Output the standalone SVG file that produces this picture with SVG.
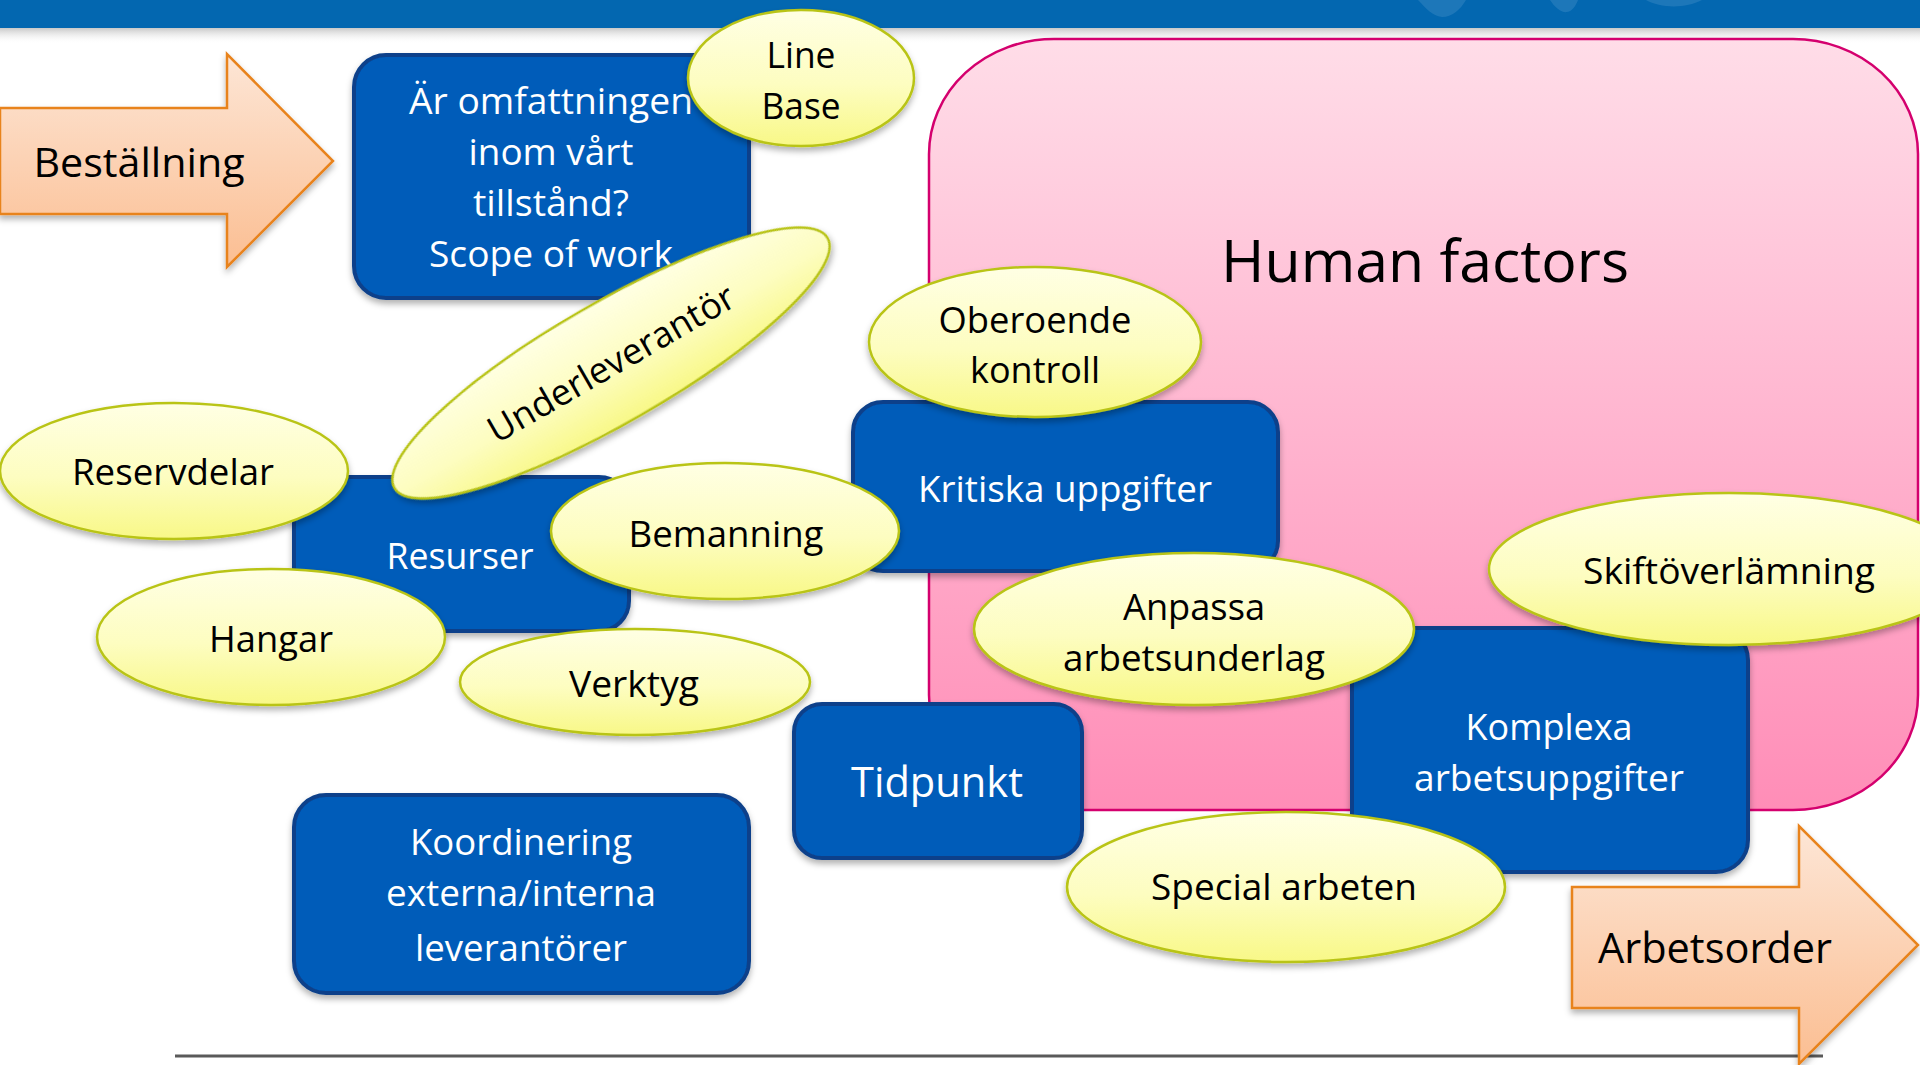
<svg xmlns="http://www.w3.org/2000/svg" width="1920" height="1065" viewBox="0 0 1920 1065">
<defs>
<linearGradient id="gEll" x1="0" y1="0" x2="0" y2="1">
<stop offset="0" stop-color="#FFFFE4"/>
<stop offset="0.55" stop-color="#FDFDC0"/>
<stop offset="1" stop-color="#F8F887"/>
</linearGradient>
<linearGradient id="gPink" x1="0" y1="0" x2="0" y2="1">
<stop offset="0" stop-color="#FFDDE8"/>
<stop offset="1" stop-color="#FF8DB7"/>
</linearGradient>
<linearGradient id="gArrow" x1="0" y1="0" x2="0" y2="1">
<stop offset="0" stop-color="#FDE6D6"/>
<stop offset="1" stop-color="#FBBE92"/>
</linearGradient>
<linearGradient id="gBarShadow" x1="0" y1="0" x2="0" y2="1">
<stop offset="0" stop-color="#C8C8C8"/>
<stop offset="1" stop-color="#FFFFFF" stop-opacity="0"/>
</linearGradient>
<filter id="sh" x="-10%" y="-10%" width="120%" height="130%">
<feDropShadow dx="0" dy="4" stdDeviation="3" flood-color="#000" flood-opacity="0.3"/>
</filter>
<style>
.box{fill:#035BB9;stroke:#0B418A;stroke-width:4;filter:url(#sh)}
.ell{fill:url(#gEll);stroke:#B9C417;stroke-width:2.5;filter:url(#sh)}
.arrow{fill:url(#gArrow);stroke:#E8831E;stroke-width:2.5;filter:url(#sh)}
.t{font-family:"Open Sans","Liberation Sans",sans-serif;text-anchor:middle}
.w{fill:#FFFFFF;font-size:37px}
.b{fill:#000000;font-size:36px}
</style>
</defs>
<rect x="0" y="0" width="1920" height="1065" fill="#FFFFFF"/>
<g id="topbar">
<rect x="0" y="28" width="1920" height="16" fill="url(#gBarShadow)"/>
<rect x="0" y="0" width="1920" height="28" fill="#0367B0"/>
<path d="M1418,0 C1426,8 1432,16 1442,17 C1452,17 1460,10 1466,0 Z" fill="#2F82C0" opacity="0.6"/>
<path d="M1550,0 C1555,8 1562,13 1567,12 C1573,11 1576,5 1578,0 Z" fill="#2F82C0" opacity="0.6"/>
<path d="M1646,0 C1660,8 1685,9 1702,0 Z" fill="#2F82C0" opacity="0.6"/>
</g>
<g id="baseline-rule">
<line x1="175" y1="1056" x2="1823" y2="1056" stroke="#5A5A5A" stroke-width="3"/>
</g>
<g id="connectors"></g>
<g id="human-factors">
<rect x="929" y="39" width="989" height="771" rx="125" ry="115" fill="url(#gPink)" stroke="#D4006E" stroke-width="2.5"/>
<text class="t" x="1425" y="282" font-size="58" fill="#000" textLength="408" lengthAdjust="spacingAndGlyphs">Human factors</text>
</g>
<g id="bestallning">
<path class="arrow" d="M0,108 H227 V54 L333,161 L227,267 V214 H0 Z"/>
<text class="t" x="139" y="177" font-size="41" fill="#000" textLength="211" lengthAdjust="spacingAndGlyphs">Beställning</text>
</g>
<g id="scope">
<rect class="box" x="354" y="55" width="395" height="243" rx="32"/>
<text class="t w" x="551" y="114" textLength="284" lengthAdjust="spacingAndGlyphs">Är omfattningen</text>
<text class="t w" x="551" y="165" textLength="165" lengthAdjust="spacingAndGlyphs">inom vårt</text>
<text class="t w" x="551" y="216" textLength="156" lengthAdjust="spacingAndGlyphs">tillstånd?</text>
<text class="t w" x="551" y="267" textLength="244" lengthAdjust="spacingAndGlyphs">Scope of work</text>
</g>
<g id="linebase">
<ellipse class="ell" cx="801" cy="78" rx="113" ry="68"/>
<text class="t b" x="801" y="68" textLength="69" lengthAdjust="spacingAndGlyphs">Line</text>
<text class="t b" x="801" y="119" textLength="79" lengthAdjust="spacingAndGlyphs">Base</text>
</g>
<g id="kritiska">
<rect class="box" x="853" y="402" width="425" height="169" rx="30"/>
<text class="t w" x="1065" y="502" textLength="294" lengthAdjust="spacingAndGlyphs">Kritiska uppgifter</text>
</g>
<g id="oberoende">
<ellipse class="ell" cx="1035" cy="342" rx="166" ry="75"/>
<text class="t b" x="1035" y="333" textLength="193" lengthAdjust="spacingAndGlyphs">Oberoende</text>
<text class="t b" x="1035" y="383" textLength="130" lengthAdjust="spacingAndGlyphs">kontroll</text>
</g>
<g id="resurser">
<rect class="box" x="294" y="477" width="335" height="154" rx="30"/>
<text class="t w" x="460" y="569" textLength="147" lengthAdjust="spacingAndGlyphs">Resurser</text>
</g>
<g id="underleverantor">
<g transform="translate(611,363) rotate(-30)">
<ellipse class="ell" cx="0" cy="0" rx="250" ry="60"/>
<text class="t b" x="0" y="13">Underleverantör</text>
</g>
</g>
<g id="reservdelar">
<ellipse class="ell" cx="174" cy="471" rx="174" ry="68"/>
<text class="t b" x="173" y="485" textLength="202" lengthAdjust="spacingAndGlyphs">Reservdelar</text>
</g>
<g id="bemanning">
<ellipse class="ell" cx="725" cy="531" rx="174" ry="68"/>
<text class="t b" x="726" y="547" textLength="195" lengthAdjust="spacingAndGlyphs">Bemanning</text>
</g>
<g id="hangar">
<ellipse class="ell" cx="271" cy="637" rx="174" ry="68"/>
<text class="t b" x="271" y="652" textLength="124" lengthAdjust="spacingAndGlyphs">Hangar</text>
</g>
<g id="verktyg">
<ellipse class="ell" cx="635" cy="682" rx="175" ry="53"/>
<text class="t b" x="634" y="697" textLength="130" lengthAdjust="spacingAndGlyphs">Verktyg</text>
</g>
<g id="tidpunkt">
<rect class="box" x="794" y="704" width="288" height="154" rx="28"/>
<text class="t" x="937" y="797" font-size="42" fill="#FFFFFF" textLength="172" lengthAdjust="spacingAndGlyphs">Tidpunkt</text>
</g>
<g id="komplexa">
<rect class="box" x="1352" y="628" width="396" height="244" rx="32"/>
<text class="t w" x="1549" y="740" textLength="167" lengthAdjust="spacingAndGlyphs">Komplexa</text>
<text class="t w" x="1549" y="791" textLength="270" lengthAdjust="spacingAndGlyphs">arbetsuppgifter</text>
</g>
<g id="anpassa">
<ellipse class="ell" cx="1194" cy="629" rx="220" ry="76"/>
<text class="t b" x="1194" y="620" textLength="142" lengthAdjust="spacingAndGlyphs">Anpassa</text>
<text class="t b" x="1194" y="671" textLength="262" lengthAdjust="spacingAndGlyphs">arbetsunderlag</text>
</g>
<g id="skiftoverlamning">
<ellipse class="ell" cx="1729" cy="569" rx="240" ry="76"/>
<text class="t b" x="1729" y="584" textLength="292" lengthAdjust="spacingAndGlyphs">Skiftöverlämning</text>
</g>
<g id="special">
<ellipse class="ell" cx="1286" cy="887" rx="219" ry="75"/>
<text class="t b" x="1284" y="900" textLength="266" lengthAdjust="spacingAndGlyphs">Special arbeten</text>
</g>
<g id="koordinering">
<rect class="box" x="294" y="795" width="455" height="198" rx="32"/>
<text class="t w" x="521" y="855" textLength="222" lengthAdjust="spacingAndGlyphs">Koordinering</text>
<text class="t w" x="521" y="906" textLength="270" lengthAdjust="spacingAndGlyphs">externa/interna</text>
<text class="t w" x="521" y="961" textLength="212" lengthAdjust="spacingAndGlyphs">leverantörer</text>
</g>
<g id="arbetsorder">
<path class="arrow" d="M1572,887 H1799 V826 L1918,945 L1799,1064 V1008 H1572 Z"/>
<text class="t" x="1715" y="963" font-size="42" fill="#000" textLength="234" lengthAdjust="spacingAndGlyphs">Arbetsorder</text>
</g>
</svg>
